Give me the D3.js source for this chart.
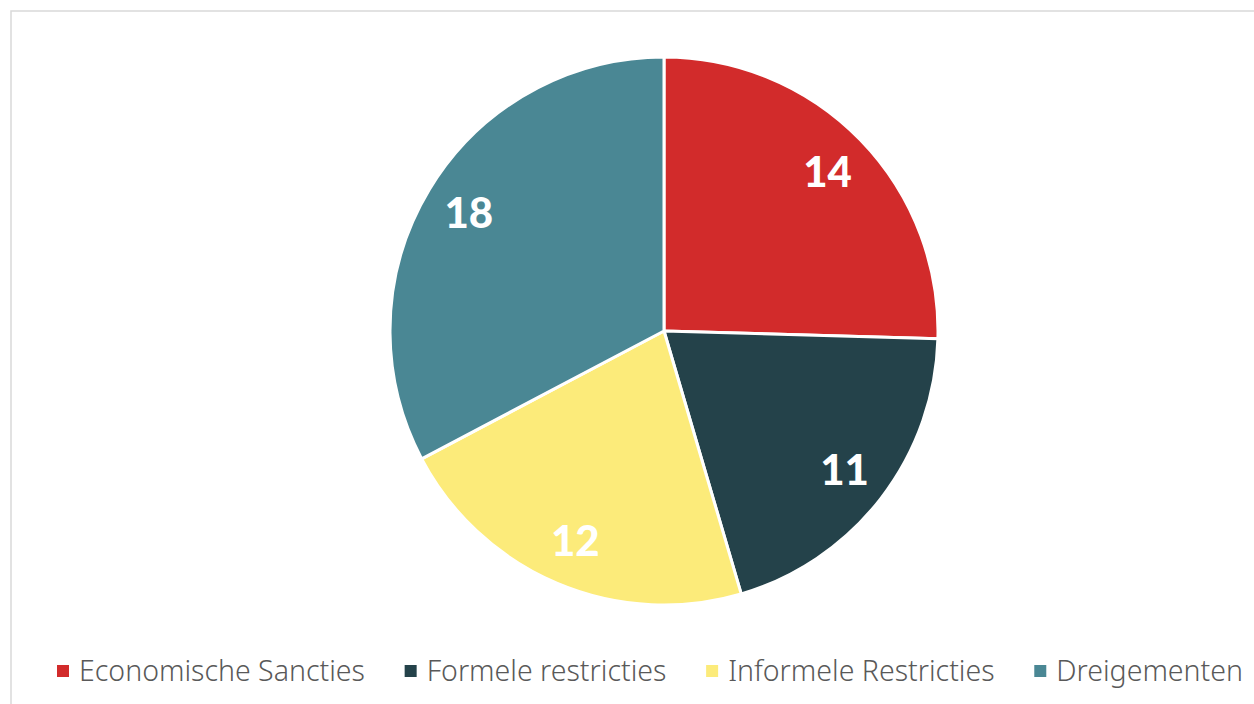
<!DOCTYPE html>
<html>
<head>
<meta charset="utf-8">
<script src="https://cdn.jsdelivr.net/npm/d3@7"></script>
<style>
  body { margin: 0; background: #fff; }
  svg { display: block; }
</style>
</head>
<body>
<svg width="1254" height="704"></svg>
<script>
// chart data
const categories = ["Economische Sancties", "Formele restricties", "Informele Restricties", "Dreigementen"];
const values = [14, 11, 12, 18];
const colors = ["#D22B2B", "#24424A", "#FCEB7A", "#4A8794"];

const width = 1254, height = 704;
const cx = 664, cy = 331, radius = 274;

const svg = d3.select("svg");

// chart border (only top/left visible)
svg.append("rect")
    .attr("x", 11).attr("y", 11)
    .attr("width", width + 20).attr("height", height + 20)
    .attr("fill", "none")
    .attr("stroke", "#d9d9d9")
    .attr("stroke-width", 1.5);

const data = categories.map((c, i) => ({ name: c, value: values[i], color: colors[i] }));

const pie = d3.pie().sort(null).value(d => d.value);
const arc = d3.arc().innerRadius(0).outerRadius(radius);
const labelArc = d3.arc().innerRadius(228).outerRadius(228);

const g = svg.append("g").attr("transform", `translate(${cx},${cy})`);

g.selectAll("path")
    .data(pie(data))
    .join("path")
    .attr("d", arc)
    .attr("fill", d => d.data.color)
    .attr("stroke", "#fff")
    .attr("stroke-width", 3)
    .attr("stroke-linejoin", "round");

g.selectAll("text")
    .data(pie(data))
    .join("text")
    .attr("transform", d => `translate(${labelArc.centroid(d)})`)
    .attr("text-anchor", "middle")
    .attr("dy", "0.36em")
    .style("font-family", "Lato, 'Noto Sans', sans-serif")
    .style("font-weight", "900")
    .style("font-size", "42px")
    .attr("fill", "#fff")
    .text(d => d.data.value);

// legend
const legendLeft = 57, legendRight = 1243;
const legend = svg.append("g").attr("transform", "translate(0, 681)");
const items = legend.selectAll("g")
    .data(data)
    .join("g");

items.append("rect")
    .attr("width", 12).attr("height", 12)
    .attr("y", -16)
    .attr("fill", d => d.color);

items.append("text")
    .attr("x", 22)
    .style("font-family", "'Noto Sans', sans-serif")
    .style("font-size", "28.5px")
    .style("font-weight", "300")
    .style("font-variant-ligatures", "none")
    .attr("fill", "#595959")
    .text(d => d.name);

const widths = [];
items.each(function () { widths.push(this.getBBox().width); });
const gap = (legendRight - legendLeft - d3.sum(widths)) / (widths.length - 1);
let x = legendLeft;
items.each(function (d, i) {
    d3.select(this).attr("transform", `translate(${x},0)`);
    x += widths[i] + gap;
});
</script>
</body>
</html>
